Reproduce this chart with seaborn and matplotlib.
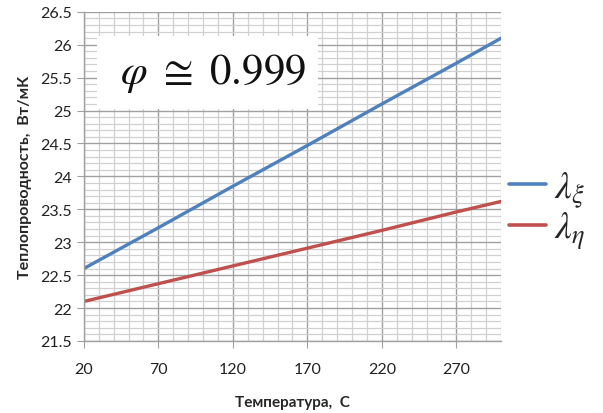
import numpy as np
import pandas as pd
import matplotlib
matplotlib.use("Agg")
import matplotlib.pyplot as plt
from matplotlib.ticker import MultipleLocator, FormatStrFormatter
from matplotlib.patches import Rectangle
import seaborn as sns

# values
temperature = [20, 70, 120, 170, 220, 270, 300]
lambda_xi = [22.60, 23.22, 23.85, 24.47, 25.10, 25.72, 26.10]
lambda_eta = [22.10, 22.37, 22.64, 22.91, 23.18, 23.46, 23.62]
series_labels = [r'$\lambda_{\xi}$', r'$\lambda_{\eta}$']
x_ticks = [20, 70, 120, 170, 220, 270]
y_ticks = [21.5, 22, 22.5, 23, 23.5, 24, 24.5, 25, 25.5, 26, 26.5]

df = pd.DataFrame({
    'T': temperature * 2,
    'lam': lambda_xi + lambda_eta,
    'series': [series_labels[0]] * len(temperature) + [series_labels[1]] * len(temperature),
})

sns.set_style('white')
plt.rcParams['font.family'] = ['Lato', 'DejaVu Sans']
plt.rcParams['mathtext.fontset'] = 'stix'

fig = plt.figure(figsize=(6.03, 4.14), dpi=100)
ax = fig.add_axes([0.139, 0.174, 0.692, 0.795])

ax.set_xlim(20, 300)
ax.set_ylim(21.5, 26.5)
ax.set_xticks(x_ticks)
ax.xaxis.set_minor_locator(MultipleLocator(10))
ax.set_yticks(y_ticks)
ax.yaxis.set_major_formatter(FormatStrFormatter('%g'))
ax.yaxis.set_minor_locator(MultipleLocator(0.1))
ax.grid(which='major', color='#a0a0a0', linewidth=1.0)
ax.grid(which='minor', color='#d0d0d0', linewidth=0.9)
ax.set_axisbelow(True)

sns.lineplot(data=df, x='T', y='lam', hue='series',
             palette=['#4f81bd', '#c0504d'], linewidth=2.4, ax=ax)

for s in ['top', 'right']:
    ax.spines[s].set_visible(False)
for s in ['left', 'bottom']:
    ax.spines[s].set_color('#a0a0a0')
    ax.spines[s].set_linewidth(1.0)
ax.tick_params(which='major', length=5, color='#a0a0a0', labelsize=11.5,
               labelcolor='#222222', direction='out', left=True, bottom=True)
ax.tick_params(axis='x', pad=10)
ax.tick_params(which='minor', length=0)

ax.set_xlabel('Температура,  С', fontsize=11, fontweight='bold', labelpad=14)
ax.set_ylabel('Теплопроводность,  Вт/мК', fontsize=11.5, fontweight='bold', labelpad=6)

# white box with the correlation value
ax.add_patch(Rectangle((0.031, 0.705), 0.53, 0.222, transform=ax.transAxes,
                       facecolor='white', edgecolor='none', zorder=3))
ax.text(0.31, 0.815, r'$\varphi\ \cong\ 0.999$', transform=ax.transAxes,
        ha='center', va='center', fontsize=31, color='#111111', zorder=4)

leg = ax.legend(loc='center left', bbox_to_anchor=(1.0, 0.40), frameon=False,
                fontsize=27, handlelength=1.0, handletextpad=0.2, labelspacing=0.0,
                borderpad=0.1, borderaxespad=0.1)
for h in leg.get_lines():
    h.set_linewidth(2.6)

fig.savefig('out.png', dpi=100)
